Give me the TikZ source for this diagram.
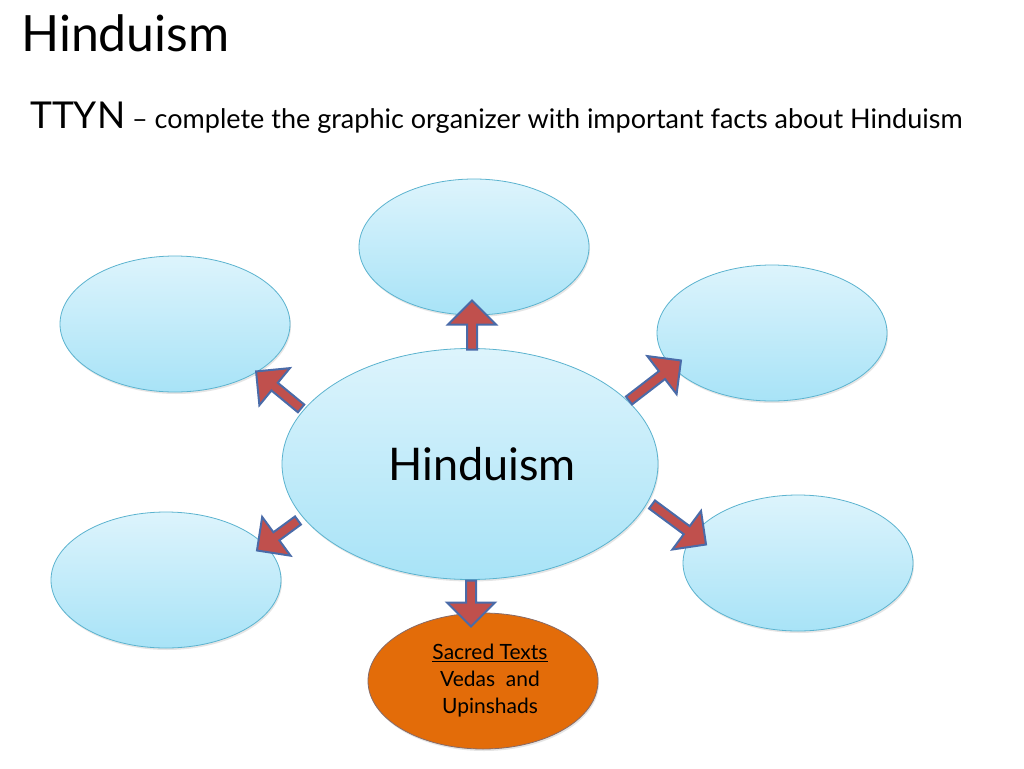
\documentclass[tikz,border=0pt]{standalone}
\usepackage{fontspec}
\setmainfont{Lato}
\usetikzlibrary{shapes.geometric,shapes.arrows,calc,positioning,shadows}
\definecolor{bubbletop}{HTML}{DDF4FC}
\definecolor{bubblebot}{HTML}{A8E3F7}
\definecolor{bubbleline}{HTML}{5BB3CF}
\definecolor{arrowred}{HTML}{C0504D}
\definecolor{arrowblue}{HTML}{4A6BA8}
\definecolor{textsorange}{HTML}{E36C09}
\tikzset{
  bubble/.style={ellipse, draw=bubbleline, line width=0.8pt, top color=bubbletop,
    bottom color=bubblebot, minimum width=230, minimum height=136,
    drop shadow={opacity=0.2, shadow xshift=1pt, shadow yshift=-2pt}},
  blockarr/.style={single arrow, draw=arrowblue, fill=arrowred, line width=2pt,
    inner sep=0pt, text height=4pt, text depth=4pt, single arrow head extend=19pt,
    single arrow head indent=0pt},
}
% block arrow from one point to another
\newcommand\blockarrow[2]{%
  \path let \p1=($(#2)-(#1)$), \n1={atan2(\y1,\x1)}, \n2={veclen(\x1,\y1)} in
    node[blockarr, minimum height=\n2, rotate=\n1] at ($(#1)!0.5!(#2)$) {};}
\begin{document}
\begin{tikzpicture}[x=1pt,y=-1pt]
\useasboundingbox[fill=white] (0,0) rectangle (1024,768);
\node[anchor=base west, inner sep=0, font=\fontsize{50}{54}\selectfont] (title) at (21,52) {Hinduism};
\node[anchor=base west, inner sep=0, font=\fontsize{27}{30}\selectfont] (task) at (30,128)
  {{\fontsize{37}{40}\selectfont TTYN} – complete the graphic organizer with important facts about Hinduism};
% outer bubbles
\node[bubble] (top) at (474,247) {};
\node[bubble] (upleft) at (175,324) {};
\node[bubble] (upright) at (772,333) {};
\node[bubble] (lowleft) at (166,580) {};
\node[bubble] (lowright) at (798,563) {};
\node[bubble, top color=textsorange, bottom color=textsorange, draw=arrowblue!60!textsorange,
  align=center, font=\fontsize{21}{27}\selectfont] (texts) at (483,681)
  {\hspace*{14pt}\underline{Sacred Texts}\\\hspace*{14pt}Vedas~ and\\\hspace*{14pt}Upinshads};
% centre
\node[bubble, minimum width=376, minimum height=231, font=\fontsize{45}{48}\selectfont] (hub) at (470,464)
  {\hspace*{24pt}Hinduism};
% arrows
\coordinate (a1) at (472,352); \coordinate (b1) at (472,303);
\coordinate (a2) at (303,410); \coordinate (b2) at (258,373);
\coordinate (a3) at (627,402); \coordinate (b3) at (679,362);
\coordinate (a4) at (300,519); \coordinate (b4) at (259,549);
\coordinate (a5) at (650,503); \coordinate (b5) at (704,543);
\coordinate (a6) at (471,578); \coordinate (b6) at (471,624);
\foreach \i in {1,...,6} {\blockarrow{a\i}{b\i}}
\end{tikzpicture}
\end{document}
